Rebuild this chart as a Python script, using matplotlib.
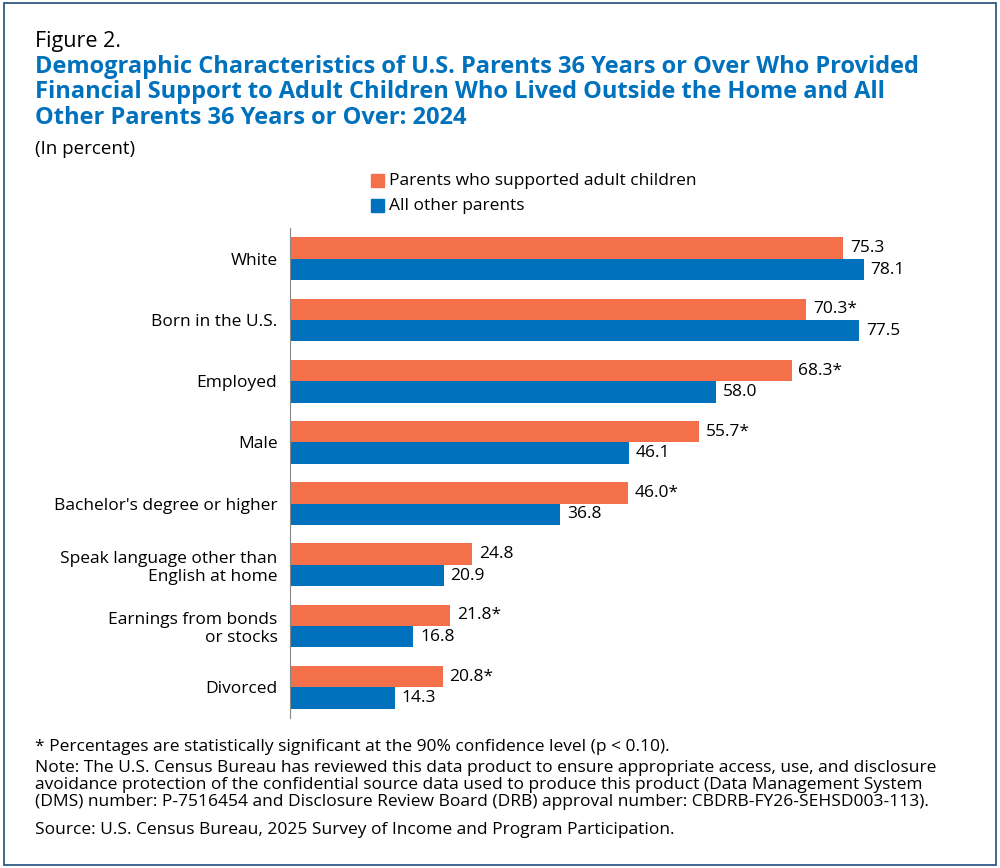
import matplotlib
matplotlib.use("Agg")
import matplotlib.pyplot as plt
from matplotlib.patches import Rectangle

categories = ["White", "Born in the U.S.", "Employed", "Male", "Bachelor's degree or higher",
              "Speak language other than\nEnglish at home", "Earnings from bonds\nor stocks", "Divorced"]
supported = [75.3, 70.3, 68.3, 55.7, 46.0, 24.8, 21.8, 20.8]
sup_labels = ["75.3", "70.3*", "68.3*", "55.7*", "46.0*", "24.8", "21.8*", "20.8*"]
others = [78.1, 77.5, 58.0, 46.1, 36.8, 20.9, 16.8, 14.3]
oth_labels = ["78.1", "77.5", "58.0", "46.1", "36.8", "20.9", "16.8", "14.3"]

plt.rcParams['font.family'] = ['Open Sans', 'DejaVu Sans']
ORANGE = "#F3704B"
BLUE = "#0071BC"
TITLE = "#0071BC"

fig = plt.figure(figsize=(10, 8.68), dpi=100)
fig.patches.append(Rectangle((0.004, 0.004), 0.992, 0.992, transform=fig.transFigure,
                             fill=False, edgecolor="#1F4E79", linewidth=1.2))

ax = fig.add_axes([0.29, 0.173, 0.67, 0.564])
n = len(categories)
ys = list(range(n))
h = 0.35
ax.barh([y - h / 2 for y in ys], supported, height=h, color=ORANGE)
ax.barh([y + h / 2 for y in ys], others, height=h, color=BLUE)
for y, v, l in zip(ys, supported, sup_labels):
    ax.text(v + 0.9, y - h / 2, l, va="center", ha="left", fontsize=12.5)
for y, v, l in zip(ys, others, oth_labels):
    ax.text(v + 0.9, y + h / 2, l, va="center", ha="left", fontsize=12.5)
ax.set_yticks(ys)
ax.set_yticklabels(categories, fontsize=12.5)
ax.tick_params(axis="y", length=0, pad=9)
ax.set_xticks([])
ax.set_xlim(0, 91.2)
ax.set_ylim(n - 0.5, -0.5)
for s in ["top", "right", "bottom"]:
    ax.spines[s].set_visible(False)
ax.spines["left"].set_color("#888888")

fig.text(0.035, 0.952, "Figure 2.", fontsize=15.5, va="center")
fig.text(0.035, 0.937, "Demographic Characteristics of U.S. Parents 36 Years or Over Who Provided\n"
         "Financial Support to Adult Children Who Lived Outside the Home and All\n"
         "Other Parents 36 Years or Over: 2024", fontsize=17, fontweight="bold",
         color=TITLE, va="top", linespacing=1.1)
fig.text(0.035, 0.828, "(In percent)", fontsize=13.5, va="center")

fig.patches.append(Rectangle((0.371, 0.784), 0.013, 0.015, transform=fig.transFigure, color=ORANGE))
fig.text(0.389, 0.791, "Parents who supported adult children", fontsize=12.5, va="center")
fig.patches.append(Rectangle((0.371, 0.756), 0.013, 0.015, transform=fig.transFigure, color=BLUE))
fig.text(0.389, 0.763, "All other parents", fontsize=12.5, va="center")

fig.text(0.035, 0.139, "* Percentages are statistically significant at the 90% confidence level (p < 0.10).",
         fontsize=12.5, va="center")
fig.text(0.035, 0.125, "Note: The U.S. Census Bureau has reviewed this data product to ensure appropriate access, use, and disclosure\n"
         "avoidance protection of the confidential source data used to produce this product (Data Management System\n"
         "(DMS) number: P-7516454 and Disclosure Review Board (DRB) approval number: CBDRB-FY26-SEHSD003-113).",
         fontsize=12.5, va="top", linespacing=1.1)
fig.text(0.035, 0.044, "Source: U.S. Census Bureau, 2025 Survey of Income and Program Participation.",
         fontsize=12.5, va="center")

fig.savefig("out.png", dpi=100)
